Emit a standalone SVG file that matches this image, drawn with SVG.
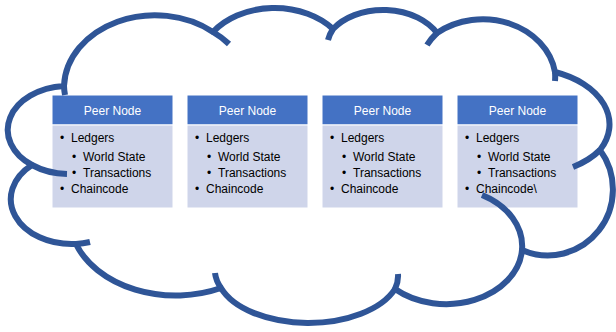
<svg xmlns="http://www.w3.org/2000/svg" width="616" height="332" viewBox="0 0 616 332">
  <style>
    .hdr { fill: #4472C4; stroke: #ffffff; stroke-width: 1; }
    .body { fill: #CFD5EA; stroke: #ffffff; stroke-width: 1; }
    .title { font-family: "Liberation Sans", Arial, sans-serif; font-size: 12px; fill: #ffffff; text-anchor: middle; }
    .item { font-family: "Liberation Sans", Arial, sans-serif; font-size: 12px; fill: #000000; }
    .cloud { fill: none; stroke: #2F5597; stroke-width: 6; stroke-linecap: butt; stroke-linejoin: round; }
  </style>

  <rect width="616" height="332" fill="#ffffff"/>

  <!-- peer node cards -->
  <g id="peer-1">
    <rect class="hdr" x="52" y="95" width="121" height="30"/>
    <rect class="body" x="52" y="125" width="121" height="83"/>
    <text class="title" x="112.5" y="115">Peer Node</text>
    <text class="item" x="60" y="142">•</text><text class="item" x="71" y="142">Ledgers</text>
    <text class="item" x="72" y="161">•</text><text class="item" x="83" y="161">World State</text>
    <text class="item" x="72" y="177">•</text><text class="item" x="83" y="177">Transactions</text>
    <text class="item" x="60" y="193">•</text><text class="item" x="71" y="193">Chaincode</text>
  </g>

  <g id="peer-2" transform="translate(135,0)">
    <rect class="hdr" x="52" y="95" width="121" height="30"/>
    <rect class="body" x="52" y="125" width="121" height="83"/>
    <text class="title" x="112.5" y="115">Peer Node</text>
    <text class="item" x="60" y="142">•</text><text class="item" x="71" y="142">Ledgers</text>
    <text class="item" x="72" y="161">•</text><text class="item" x="83" y="161">World State</text>
    <text class="item" x="72" y="177">•</text><text class="item" x="83" y="177">Transactions</text>
    <text class="item" x="60" y="193">•</text><text class="item" x="71" y="193">Chaincode</text>
  </g>

  <g id="peer-3" transform="translate(270,0)">
    <rect class="hdr" x="52" y="95" width="121" height="30"/>
    <rect class="body" x="52" y="125" width="121" height="83"/>
    <text class="title" x="112.5" y="115">Peer Node</text>
    <text class="item" x="60" y="142">•</text><text class="item" x="71" y="142">Ledgers</text>
    <text class="item" x="72" y="161">•</text><text class="item" x="83" y="161">World State</text>
    <text class="item" x="72" y="177">•</text><text class="item" x="83" y="177">Transactions</text>
    <text class="item" x="60" y="193">•</text><text class="item" x="71" y="193">Chaincode</text>
  </g>

  <g id="peer-4" transform="translate(405,0)">
    <rect class="hdr" x="52" y="95" width="121" height="30"/>
    <rect class="body" x="52" y="125" width="121" height="83"/>
    <text class="title" x="112.5" y="115">Peer Node</text>
    <text class="item" x="60" y="142">•</text><text class="item" x="71" y="142">Ledgers</text>
    <text class="item" x="72" y="161">•</text><text class="item" x="83" y="161">World State</text>
    <text class="item" x="72" y="177">•</text><text class="item" x="83" y="177">Transactions</text>
    <text class="item" x="60" y="193">•</text><text class="item" x="71" y="193">Chaincode\</text>
  </g>

  <!-- network cloud drawn over the cards: outline plus inner bump arcs -->
  <g id="cloud">
    <path class="cloud" d="M 64 86
      A 91 73 0 0 1 213 32
      A 75 56 0 0 1 333 29
      A 61 44 0 0 1 437 33
      A 73 62 0 0 1 555 72
      A 85 56 0 0 1 600 150
      A 65 66 0 0 1 522 250
      A 76 58 0 0 1 395 289
      A 92 51 0 0 1 221 288
      A 106 78 0 0 1 76 244
      A 61 45 0 0 1 32 165
      A 61 44 0 0 1 64 86 Z"/>
    <path class="cloud" d="M 65 95 A 91 73 0 0 1 64 86
      M 213 32 A 91 73 0 0 1 229 44
      M 328 40 A 61 44 0 0 1 333 29
      M 427 45 A 73 62 0 0 1 437 33
      M 555 72 A 73 62 0 0 1 555 81
      M 600 150 A 85 56 0 0 1 573 167
      M 482 195 A 76 58 0 0 1 522 250
      M 398 274 A 92 51 0 0 1 395 289
      M 221 288 A 92 51 0 0 1 215 273
      M 90 242 A 61 45 0 0 1 76 244
      M 67 174 A 61 44 0 0 1 32 165"/>
  </g>
</svg>
